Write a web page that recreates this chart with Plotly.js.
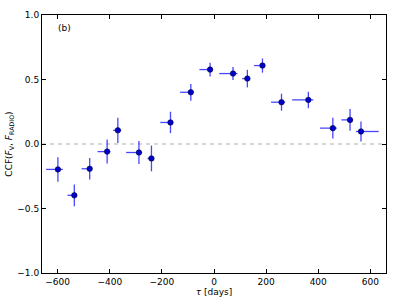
<!DOCTYPE html>
<html>
<head>
<meta charset="utf-8">
<script src="https://cdn.plot.ly/plotly-3.0.1.min.js"></script>
<style>html,body{margin:0;padding:0;background:#fff;}#chart{width:407px;height:305px;}</style>
</head>
<body>
<div id="chart"></div>
<script>
const tau = [-599, -536, -477, -410, -369, -288, -240, -167, -89, -15, 73, 128, 186, 259, 362, 456, 522, 564];
const ccf = [-0.197, -0.398, -0.192, -0.059, 0.106, -0.066, -0.112, 0.167, 0.401, 0.577, 0.546, 0.507, 0.608, 0.324, 0.342, 0.123, 0.187, 0.097];
const tauErrMinus = [45, 26, 31, 37, 18, 49, 15, 39, 41, 41, 53, 20, 32, 40, 62, 49, 33, 19];
const tauErrPlus = [19, 7, 8, 12, 13, 11, 8, 3, 10, 4, 17, 11, 10, 14, 19, 15, 10, 68];
const ccfErr = [0.095, 0.084, 0.084, 0.093, 0.098, 0.09, 0.1, 0.083, 0.065, 0.053, 0.05, 0.068, 0.055, 0.066, 0.064, 0.081, 0.084, 0.078];
const xTicks = [-600, -400, -200, 0, 200, 400, 600];
const yTicks = [-1.0, -0.5, 0.0, 0.5, 1.0];

const trace = {
  x: tau, y: ccf, type: 'scatter', mode: 'markers',
  marker: {color: '#0000cc', size: 5.5, line: {color: '#000033', width: 0.6}},
  error_x: {type: 'data', symmetric: false, array: tauErrPlus, arrayminus: tauErrMinus, color: 'rgba(40,40,255,0.85)', thickness: 1.3, width: 0},
  error_y: {type: 'data', array: ccfErr, color: 'rgba(40,40,255,0.85)', thickness: 1.3, width: 0},
  hoverinfo: 'none'
};

const axisCommon = {
  showgrid: false, zeroline: false, showline: true, linecolor: '#000', linewidth: 1,
  mirror: 'ticks', ticks: 'inside', ticklen: 4, tickcolor: '#000', tickwidth: 1,
  tickfont: {family: 'DejaVu Sans', size: 9, color: '#000'}
};

const layout = {
  width: 407, height: 305,
  margin: {l: 42, r: 21, t: 15, b: 32},
  paper_bgcolor: '#fff', plot_bgcolor: '#fff',
  showlegend: false,
  xaxis: Object.assign({}, axisCommon, {
    range: [-660, 660], tickvals: xTicks, ticktext: xTicks.map(v => v < 0 ? '\u2212' + Math.abs(v) : String(v)),
    title: {text: '<i>τ</i> [days]', font: {family: 'DejaVu Sans', size: 9, color: '#000'}, standoff: 2}
  }),
  yaxis: Object.assign({}, axisCommon, {
    range: [-1.0, 1.0], tickvals: yTicks, ticktext: yTicks.map(v => v < 0 ? '\u2212' + Math.abs(v).toFixed(1) : v.toFixed(1)),
    title: {text: 'CCF(<i>F</i><sub>V</sub>, <i>F</i><sub>RADIO</sub>)', font: {family: 'DejaVu Sans', size: 9, color: '#000'}, standoff: 3}
  }),
  shapes: [{type: 'line', xref: 'paper', yref: 'y', x0: 0, x1: 1, y0: 0, y1: 0,
            line: {color: '#cccccc', width: 1.3, dash: '4px,4px'}, layer: 'below'}],
  annotations: [{xref: 'paper', yref: 'paper', x: 0.04, y: 0.95, xanchor: 'left', yanchor: 'middle',
                 text: '(b)', showarrow: false, font: {family: 'DejaVu Sans', size: 9, color: '#000'}}]
};

Plotly.newPlot('chart', [trace], layout, {staticPlot: true, displayModeBar: false});
</script>
</body>
</html>
